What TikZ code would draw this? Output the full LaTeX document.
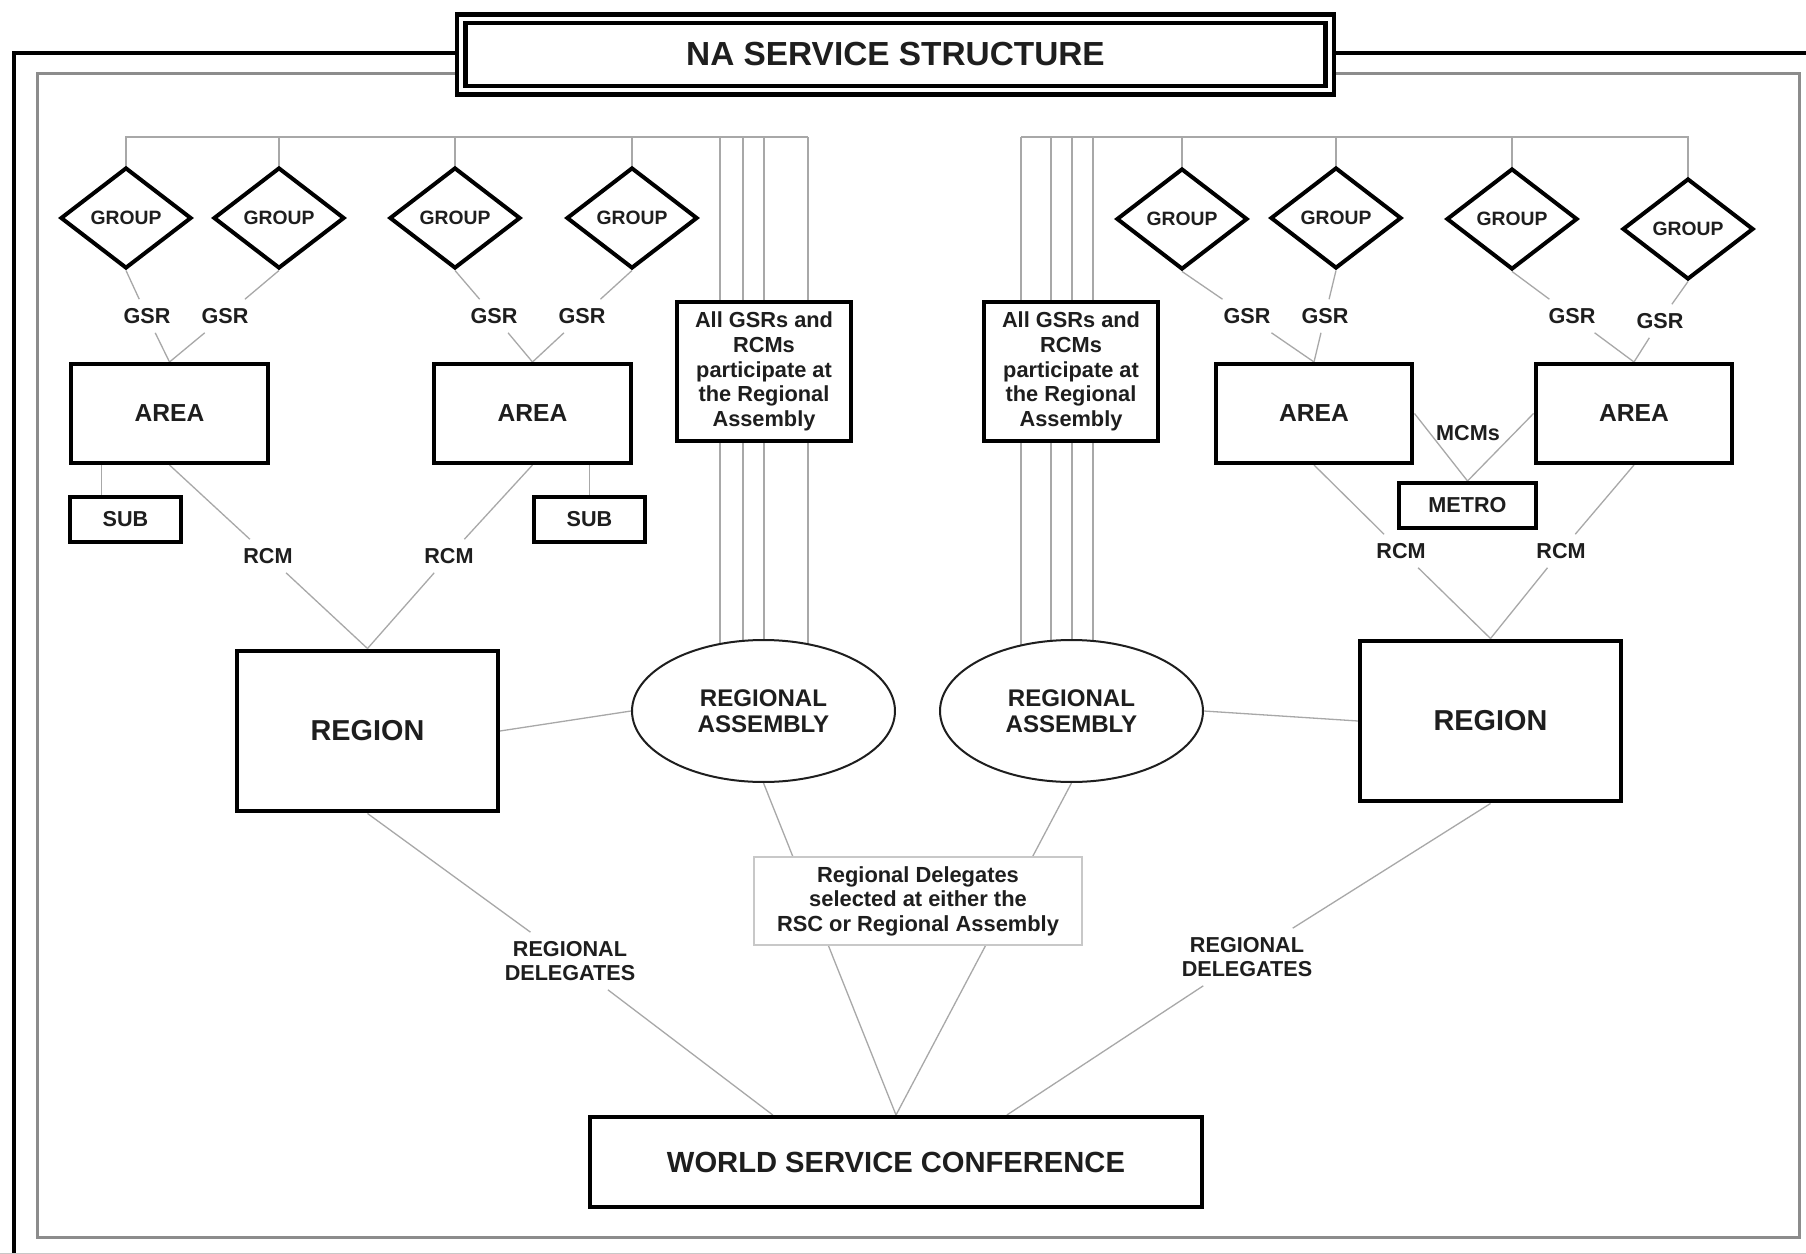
\documentclass[tikz,border=0pt]{standalone}
\usepackage{fontspec}
\setmainfont{Liberation Sans}
\usetikzlibrary{shapes.geometric,calc,backgrounds}

\definecolor{ink}{HTML}{1E1E1E}
\definecolor{wire}{HTML}{A8A8A8}
\definecolor{framegray}{HTML}{8C8C8C}
\definecolor{softline}{HTML}{C8C8C8}

\tikzset{
  structbox/.style = {draw=black, line width=0.08cm, fill=white, text=ink, inner sep=0pt,
    font=\bfseries\fontsize{12.3}{14}\selectfont},
  areabox/.style = {structbox, minimum width=3.94cm, minimum height=1.98cm,
    font=\bfseries\fontsize{14}{16}\selectfont},
  regionbox/.style = {structbox, minimum width=5.22cm, minimum height=3.22cm,
    font=\bfseries\fontsize{16.4}{18}\selectfont},
  groupbox/.style = {diamond, draw=black, line width=0.08cm, fill=white, text=ink, aspect=1.3,
    inner sep=0pt, minimum width=2.62cm, minimum height=2.02cm, font=\bfseries\fontsize{11}{13}\selectfont},
  notebox/.style = {structbox, align=center, minimum width=3.48cm, minimum height=2.78cm,
    font=\bfseries\fontsize{12.4}{14}\selectfont},
  assembly/.style = {ellipse, draw=ink, line width=0.04cm, fill=white, text=ink, align=center, inner sep=0pt,
    minimum width=5.26cm, minimum height=2.84cm, font=\bfseries\fontsize{13.7}{14.8}\selectfont},
  tagtext/.style = {text=ink, align=center, inner sep=5pt, font=\bfseries\fontsize{12.3}{13.7}\selectfont},
  linkline/.style = {draw=wire, line width=0.026cm},
}

\begin{document}
\begin{tikzpicture}[x=0.02cm, y=-0.02cm]
  \useasboundingbox (0,0) rectangle (1806,1254);
  \clip (0,0) rectangle (1806,1254);
  \begin{scope}[on background layer]
    \fill[white] (0,0) rectangle (1806,1254);
  \end{scope}

  % frames and title
  \draw[line width=0.09cm] (14,53) rectangle (1830,1262);
  \draw[softline, line width=0.02cm] (0,1253) -- (1806,1253);
  \draw[framegray, line width=0.06cm] (37,73) rectangle (1799,1237);
  \node[structbox, double, double distance=0.08cm, line width=0.09cm, minimum width=17.38cm,
    minimum height=1.43cm, font=\bfseries\fontsize{19}{22}\selectfont] (title) at (895.5,54.5) {NA SERVICE STRUCTURE};

  \foreach \n/\x/\y in {1/126/218, 2/279/218, 3/455/218, 4/632/218,
                        5/1182/219, 6/1336/218, 7/1512/219, 8/1688/229}
    \node[groupbox] (g\n) at (\x,\y) {GROUP};

  \foreach \n/\x/\y in {1/147/316, 2/225/316, 3/494/316, 4/582/316,
                        5/1247/316, 6/1325/316, 7/1572/316, 8/1660/321}
    \node[tagtext] (gsr\n) at (\x,\y) {GSR};

  \foreach \n/\x in {1/169.5, 2/532.5, 3/1314, 4/1634}
    \node[areabox] (area\n) at (\x,413.5) {AREA};

  \node[structbox, minimum width=2.24cm, minimum height=0.9cm] (sub1) at (125.5,519.5) {SUB};
  \node[structbox, minimum width=2.24cm, minimum height=0.9cm] (sub2) at (589.5,519.5) {SUB};
  \node[structbox, minimum width=2.74cm, minimum height=0.9cm] (metro) at (1467.5,505.5) {METRO};
  \node[tagtext] (mcms) at (1468,433) {MCMs};

  \foreach \n/\x/\y in {1/268/556, 2/449/556, 3/1401/551, 4/1561/551}
    \node[tagtext] (rcm\n) at (\x,\y) {RCM};

  \node[notebox] (noteL) at (764,371.5) {All GSRs and\\RCMs\\participate at\\the Regional\\Assembly};
  \node[notebox] (noteR) at (1071,371.5) {All GSRs and\\RCMs\\participate at\\the Regional\\Assembly};

  \node[regionbox] (region1) at (367.5,731) {REGION};
  \node[regionbox] (region2) at (1490.5,721) {REGION};
  \node[assembly] (ra1) at (763.5,711) {REGIONAL\\ASSEMBLY};
  \node[assembly] (ra2) at (1071.5,711) {REGIONAL\\ASSEMBLY};

  \node[draw=softline, line width=0.03cm, fill=white, text=ink, align=center, minimum width=6.56cm,
    minimum height=1.76cm, font=\bfseries\fontsize{12.45}{14}\selectfont] (deleg) at (918,901)
    {Regional Delegates\\selected at either the\\RSC or Regional Assembly};

  \node[tagtext] (rdL) at (570,961) {REGIONAL\\DELEGATES};
  \node[tagtext] (rdR) at (1247,957) {REGIONAL\\DELEGATES};

  \node[structbox, minimum width=12.24cm, minimum height=1.8cm,
    font=\bfseries\fontsize{16.6}{18}\selectfont] (wsc) at (896,1162) {WORLD SERVICE CONFERENCE};

  % connectors
  \begin{scope}[on background layer]
    \foreach \v/\x in {1/720, 2/743, 3/764, 4/808}
      \coordinate (vl\v) at (\x,137);
    \foreach \v/\x in {1/1021, 2/1051, 3/1072, 4/1093}
      \coordinate (vr\v) at (\x,137);
    \draw[linkline] (g1.north) |- (vl4);
    \foreach \g in {2,3,4}
      \draw[linkline] (g\g.north) -- (g\g.north |- vl4);
    \draw[linkline] (g8.north) |- (vr1);
    \foreach \g in {5,6,7}
      \draw[linkline] (g\g.north) -- (g\g.north |- vr1);
    \foreach \v in {1,...,4} {
      \draw[linkline] (vl\v) -- (vl\v |- ra1.center);
      \draw[linkline] (vr\v) -- (vr\v |- ra2.center);
    }

    \foreach \g/\a in {1/1, 2/1, 3/2, 4/2, 5/3, 6/3, 7/4, 8/4}
      \draw[linkline] (g\g.south) -- (gsr\g) -- (area\a.north);

    \coordinate (s1) at ($(sub1.north west)+(34,0)$);
    \draw[linkline] (s1) -- (s1 |- area1.south);
    \draw[linkline] (sub2.north) -- (sub2.north |- area2.south);
    \draw[linkline] (area3.east) -- (metro.north) -- (area4.west);

    \foreach \a/\r in {1/1, 2/1, 3/2, 4/2}
      \draw[linkline] (area\a.south) -- (rcm\a) -- (region\r.north);

    \draw[linkline] (region1.east) -- (ra1.west);
    \draw[linkline] (ra2.east) -- (region2.west);
    \draw[linkline] (ra1.south) -- (wsc.north);
    \draw[linkline] (ra2.south) -- (wsc.north);
    \draw[linkline] (region1.south) -- (rdL) -- ($(wsc.north west)!0.3!(wsc.north east)$);
    \draw[linkline] (region2.south) -- (rdR) -- ($(wsc.north west)!0.68!(wsc.north east)$);
  \end{scope}
\end{tikzpicture}
\end{document}
